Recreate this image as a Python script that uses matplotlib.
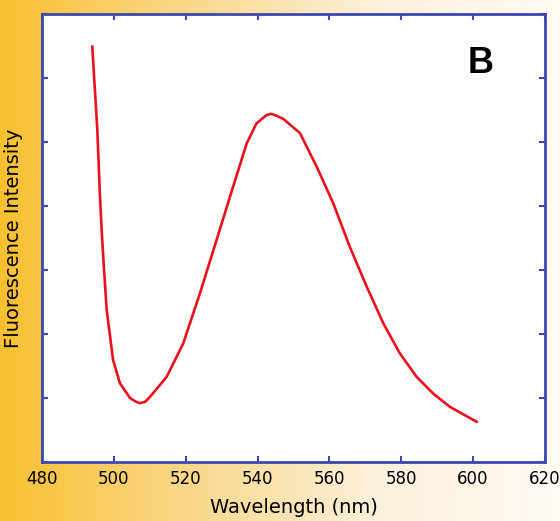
import matplotlib
matplotlib.use('Agg')
import matplotlib.pyplot as plt
import numpy as np
from matplotlib.colors import LinearSegmentedColormap

# spectrum
wavelength = [494.0, 495.4, 496.1, 496.6, 497.1, 498.0, 499.8, 501.7, 504.5,
              505.9, 507.1, 508.7, 510.1, 514.7, 519.3, 524.0, 528.6, 533.2,
              537.0, 539.7, 542.5, 543.8, 545.3, 547.2, 551.8, 556.5, 561.1,
              565.7, 570.4, 575.0, 579.6, 584.3, 588.9, 593.6, 601.0]
intensity = [6.49, 5.19, 4.20, 3.63, 3.16, 2.38, 1.59, 1.23, 1.00,
             0.95, 0.92, 0.94, 1.02, 1.33, 1.85, 2.64, 3.47, 4.30,
             4.98, 5.29, 5.42, 5.44, 5.41, 5.36, 5.14, 4.61, 4.04,
             3.36, 2.74, 2.17, 1.70, 1.33, 1.07, 0.86, 0.63]
xticks = [480, 500, 520, 540, 560, 580, 600, 620]

plt.rcParams['font.family'] = ['DejaVu Sans']

fig = plt.figure(figsize=(5.6, 5.21), dpi=100)

# orange -> white background
bg = fig.add_axes([0, 0, 1, 1], zorder=-1)
cmap = LinearSegmentedColormap.from_list('bg', ['#f8c030', '#fad88a', '#fdf0da', '#fffbf5'])
bg.imshow(np.linspace(0, 1, 256)[None, :], aspect='auto', cmap=cmap, extent=[0, 1, 0, 1])
bg.axis('off')

ax = fig.add_axes([0.075, 0.1132, 0.898, 0.86])
ax.set_facecolor('white')
ax.plot(wavelength, intensity, color='#e8121c', lw=1.9)

ax.set_xlim(480, 620)
ax.set_ylim(0, 7)
ax.set_xticks(xticks)
ax.set_yticks(range(8))
ax.set_yticklabels([])
ax.tick_params(direction='in', top=True, right=True, length=4, width=1.5,
               color='#3a48b0', labelsize=12, pad=6)
for s in ax.spines.values():
    s.set_color('#3a48b0')
    s.set_linewidth(2)

ax.set_xlabel('Wavelength (nm)', fontsize=14, labelpad=7)
ax.set_ylabel('Fluorescence Intensity', fontsize=14, labelpad=8)
ax.text(602.2, 6.22, 'B', fontsize=26, fontweight='bold',
        family='Liberation Sans', ha='center', va='center')

fig.savefig('out.png', dpi=100)
